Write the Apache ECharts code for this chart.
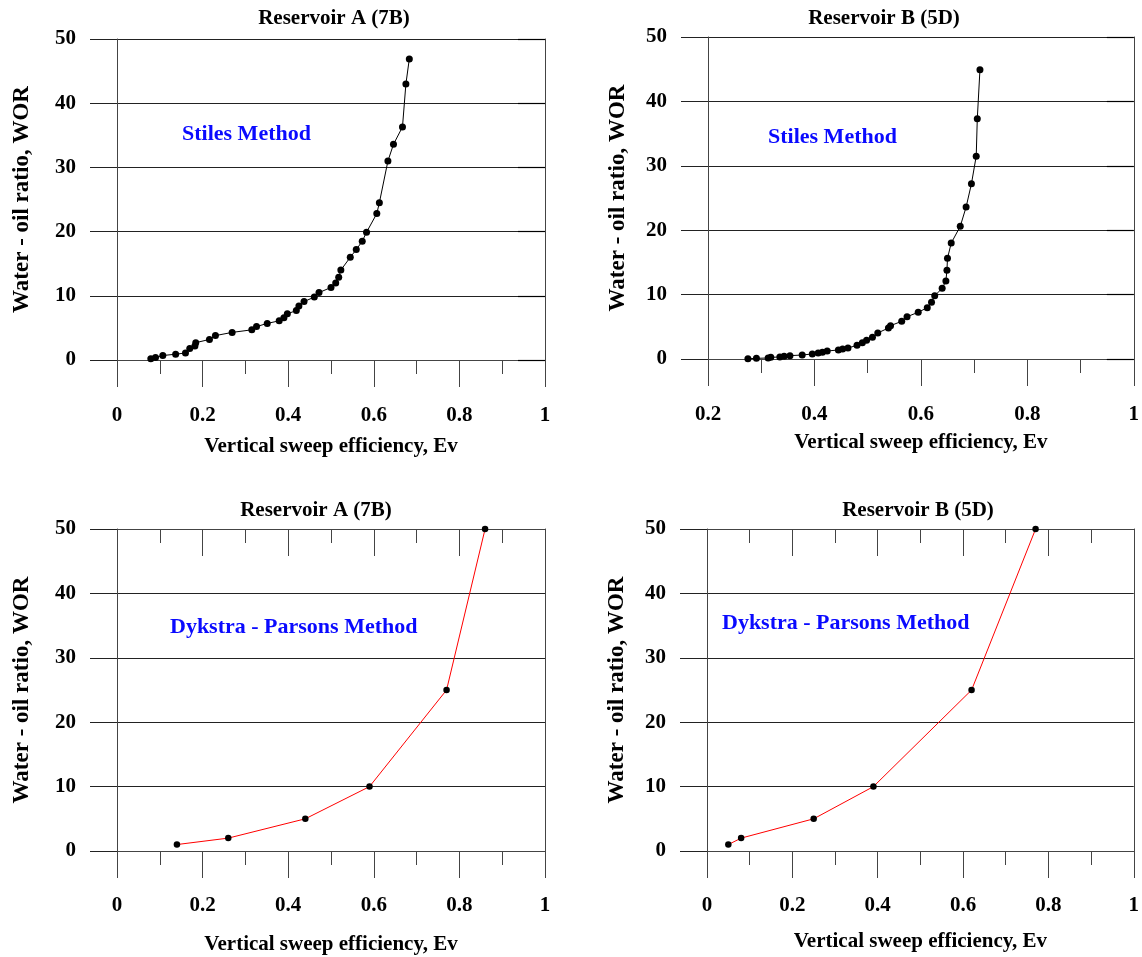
<!DOCTYPE html>
<html>
<head>
<meta charset="utf-8">
<script src="https://cdn.jsdelivr.net/npm/echarts@6/dist/echarts.min.js"></script>
<style>
html,body{margin:0;padding:0;background:#fff;}
#chart{width:1142px;height:957px;}
</style>
</head>
<body>
<div id="chart"></div>
<script>
// ---- Data ----
const stilesA_Ev  = [0.079,0.090,0.107,0.137,0.160,0.170,0.182,0.184,0.216,0.230,0.269,0.315,0.326,0.351,0.379,0.390,0.398,0.419,0.425,0.437,0.461,0.472,0.500,0.511,0.518,0.523,0.545,0.559,0.573,0.583,0.607,0.613,0.633,0.646,0.667,0.675,0.683];
const stilesA_WOR = [0.2,0.4,0.7,0.9,1.1,1.8,2.2,2.7,3.2,3.8,4.3,4.7,5.2,5.7,6.1,6.6,7.2,7.7,8.4,9.1,9.8,10.5,11.3,12.0,12.9,14.0,16.0,17.2,18.5,19.9,22.8,24.5,31.0,33.6,36.3,43.0,46.9];

const stilesB_Ev  = [0.275,0.291,0.313,0.318,0.335,0.343,0.354,0.377,0.396,0.407,0.415,0.424,0.445,0.453,0.463,0.480,0.490,0.498,0.509,0.519,0.539,0.543,0.564,0.574,0.595,0.612,0.620,0.626,0.640,0.647,0.649,0.650,0.657,0.674,0.685,0.695,0.704,0.706,0.711];
const stilesB_WOR = [0.05,0.1,0.16,0.26,0.31,0.41,0.52,0.62,0.78,0.93,1.04,1.24,1.40,1.55,1.71,2.12,2.54,2.90,3.36,4.04,4.81,5.18,5.85,6.57,7.25,7.97,8.80,9.83,10.97,12.11,13.77,15.63,18.0,20.6,23.6,27.2,31.5,37.3,44.9];

const dykA_Ev  = [0.14,0.26,0.44,0.59,0.77,0.86];
const dykA_WOR = [1,2,5,10,25,50];

const dykB_Ev  = [0.05,0.08,0.25,0.39,0.62,0.77];
const dykB_WOR = [1,2,5,10,25,50];

const titleA = 'Reservoir A (7B)';
const titleB = 'Reservoir B (5D)';
const xName = 'Vertical sweep efficiency, Ev';
const yName = 'Water - oil ratio, WOR';
const stilesLabel = 'Stiles Method';
const dykLabel = 'Dykstra - Parsons Method';

// ---- Build chart ----
const FONT = '"Liberation Serif", "Times New Roman", serif';
const zip = (a, b) => a.map((v, i) => [v, b[i]]);

const grids = [
  {left:117, top:39, width:428, height:321},
  {left:708, top:37, width:428, height:322},
  {left:117, top:529, width:428, height:322},
  {left:707, top:529, width:428, height:322}
];

const axisColor = '#444';
const gridColor = '#222';

function bottomX(gi, min, nameGap, margin){
  return {
    gridIndex: gi, type:'value', position:'bottom', min:min, max:1, interval:0.2,
    axisLine:{show:true, onZero:false, lineStyle:{color:axisColor, width:1}},
    axisTick:{show:true, inside:false, length:27, lineStyle:{color:axisColor, width:1}},
    minorTick:{show:true, splitNumber:2, length:14, lineStyle:{color:axisColor, width:1}},
    splitLine:{show:false},
    axisLabel:{margin:margin, color:'#000', fontFamily:FONT, fontWeight:'bold', fontSize:21},
    name:xName, nameLocation:'middle', nameGap:nameGap,
    nameTextStyle:{color:'#000', fontFamily:FONT, fontWeight:'bold', fontSize:21}
  };
}
function topX(gi){
  return {
    gridIndex: gi, type:'value', position:'top', min:0, max:1, interval:0.2,
    axisLine:{show:true, onZero:false, lineStyle:{color:axisColor, width:1}},
    axisTick:{show:true, inside:true, length:27, lineStyle:{color:axisColor, width:1}},
    minorTick:{show:true, splitNumber:2, length:14, lineStyle:{color:axisColor, width:1}},
    splitLine:{show:false}, axisLabel:{show:false}
  };
}
function leftY(gi, nameGap){
  return {
    gridIndex: gi, type:'value', position:'left', min:0, max:50, interval:10,
    axisLine:{show:true, onZero:false, lineStyle:{color:axisColor, width:1}},
    axisTick:{show:true, inside:false, length:27, lineStyle:{color:gridColor, width:1}},
    splitLine:{show:true, lineStyle:{color:gridColor, width:1}},
    axisLabel:{margin:41, color:'#000', fontFamily:FONT, fontWeight:'bold', fontSize:21},
    name:yName, nameLocation:'middle', nameGap:nameGap, nameRotate:90,
    nameTextStyle:{color:'#000', fontFamily:FONT, fontWeight:'bold', fontSize:23}
  };
}
function rightY(gi, ticks){
  return {
    gridIndex: gi, type:'value', position:'right', min:0, max:50, interval:10,
    axisLine:{show:true, onZero:false, lineStyle:{color:axisColor, width:1}},
    axisTick:{show:ticks, inside:true, length:27, lineStyle:{color:'#000', width:1.2}},
    splitLine:{show:false}, axisLabel:{show:false}
  };
}

const xAxes = [
  bottomX(0, 0, 76, 45),   // 0
  bottomX(1, 0.2, 73, 45), // 1
  bottomX(2, 0, 83, 44),   // 2
  topX(2),                 // 3
  bottomX(3, 0, 80, 44),   // 4
  topX(3)                  // 5
];
const yAxes = [
  leftY(0, 83), rightY(0, true),   // 0,1
  leftY(1, 78), rightY(1, true),   // 2,3
  leftY(2, 83), rightY(2, false),  // 4,5
  leftY(3, 78), rightY(3, false)   // 6,7
];

function lineSeries(xi, yi, data, color, symSize){
  return {
    type:'line', xAxisIndex:xi, yAxisIndex:yi, data:data,
    symbol:'circle', symbolSize:symSize, showSymbol:true, clip:false,
    lineStyle:{color:color, width:1},
    itemStyle:{color:'#000', borderWidth:0},
    emphasis:{disabled:true}, animation:false
  };
}

const series = [
  lineSeries(0, 0, zip(stilesA_Ev, stilesA_WOR), '#000', 7),
  lineSeries(1, 2, zip(stilesB_Ev, stilesB_WOR), '#000', 7),
  lineSeries(2, 4, zip(dykA_Ev, dykA_WOR), '#ff0000', 6.5),
  lineSeries(4, 6, zip(dykB_Ev, dykB_WOR), '#ff0000', 6.5)
];

function txt(x, y, text, color, size, align){
  return {
    type:'text', x:x, y:y, silent:true,
    style:{text:text, fill:color, font:'bold ' + size + 'px ' + FONT, align:align, verticalAlign:'middle'}
  };
}

const graphics = [
  txt(334, 19, titleA, '#000', 21, 'center'),
  txt(884, 19, titleB, '#000', 21, 'center'),
  txt(316, 511, titleA, '#000', 21, 'center'),
  txt(918, 511, titleB, '#000', 21, 'center'),
  txt(182, 134, stilesLabel, '#0a0aff', 22, 'left'),
  txt(768, 137, stilesLabel, '#0a0aff', 22, 'left'),
  txt(170, 627, dykLabel, '#0a0aff', 22, 'left'),
  txt(722, 623, dykLabel, '#0a0aff', 22, 'left')
];

const chart = echarts.init(document.getElementById('chart'), null, {renderer:'canvas'});
chart.setOption({
  backgroundColor:'#fff',
  animation:false,
  grid: grids,
  xAxis: xAxes,
  yAxis: yAxes,
  series: series,
  graphic: graphics
});
</script>
</body>
</html>
